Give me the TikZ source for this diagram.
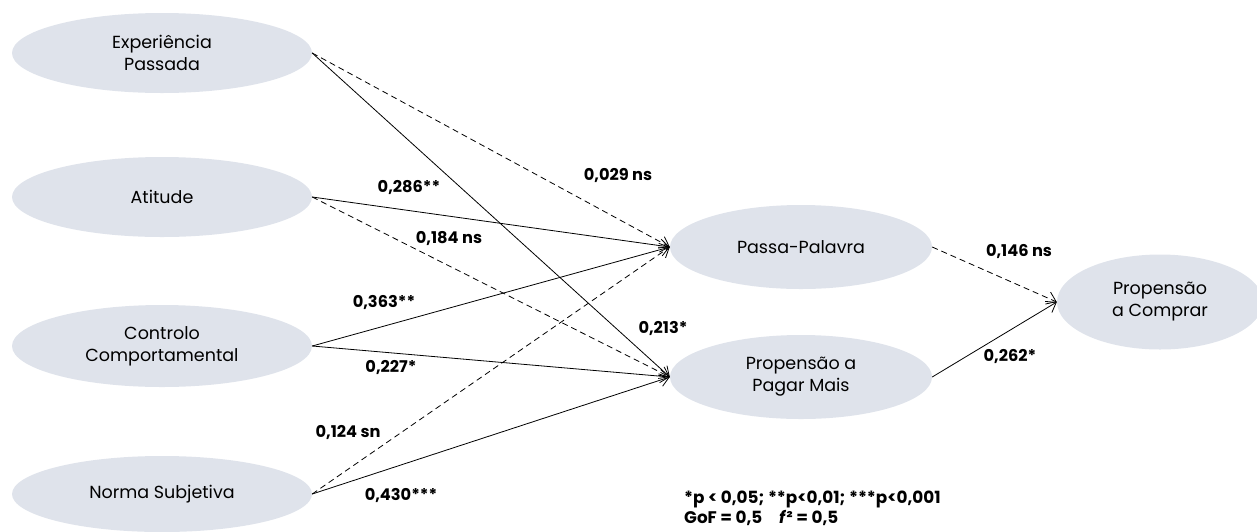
\documentclass[tikz,border=0pt]{standalone}
\usepackage{fontspec}
\setmainfont{Poppins}
\usetikzlibrary{shapes.geometric,arrows.meta}
\definecolor{latent}{RGB}{223,227,235}
\tikzset{
  construct/.style={ellipse, fill=latent, inner sep=0pt, align=center,
    font=\fontsize{17.5}{22}\selectfont},
  path/.style={draw=black, line width=0.8pt, -{Straight Barb[length=9pt,width=13pt]}},
  nspath/.style={path, dashed, dash pattern=on 6pt off 4pt},
  coef/.style={font=\bfseries\fontsize{16.2}{20}\selectfont, inner sep=0pt}
}
\begin{document}
\begin{tikzpicture}[x=1pt,y=-1pt]
\useasboundingbox (0,0) rectangle (1257,531);
% exogenous constructs
\node[construct, minimum width=300pt, minimum height=80pt] (exp) at (162,53) {Experiência\\Passada};
\node[construct, minimum width=300pt, minimum height=80pt] (ati) at (162,197) {Atitude};
\node[construct, minimum width=300pt, minimum height=82pt] (ctl) at (162,346) {Controlo\\Comportamental};
\node[construct, minimum width=300pt, minimum height=76pt] (nor) at (162,494) {Norma Subjetiva};
% mediators
\node[construct, minimum width=262pt, minimum height=84pt] (pp) at (801,247) {Passa-Palavra};
\node[construct, minimum width=262pt, minimum height=84pt] (pm) at (801,377) {Propensão a\\Pagar Mais};
% outcome
\node[construct, minimum width=206pt, minimum height=95pt] (pc) at (1160,302) {Propensão\\a Comprar};

% structural paths
\draw[path]   (exp.east) -- (pm.west);
\draw[nspath] (exp.east) -- (pp.west);
\draw[path]   (ati.east) -- (pp.west);
\draw[nspath] (ati.east) -- (pm.west);
\draw[path]   (ctl.east) -- (pp.west);
\draw[path]   (ctl.east) -- (pm.west);
\draw[nspath] (nor.east) -- (pp.west);
\draw[path]   (nor.east) -- (pm.west);
\draw[nspath] (pp.east) -- (pc.west);
\draw[path]   (pm.east) -- (pc.west);

% path coefficients
\node[coef] (c1) at (618,175) {0,029 ns};
\node[coef] (c2) at (409,187) {0,286**};
\node[coef] (c3) at (449,239) {0,184 ns};
\node[coef] (c4) at (384,302) {0,363**};
\node[coef] (c5) at (663,328) {0,213*};
\node[coef] (c6) at (391,367) {0,227*};
\node[coef] (c7) at (348,432) {0,124 sn};
\node[coef] (c8) at (401,495) {0,430***};
\node[coef] (c9) at (1019,252) {0,146 ns};
\node[coef] (c10) at (1010,356) {0,262*};

% significance legend
\node[coef, anchor=west, align=left, font=\bfseries\fontsize{16.8}{20}\selectfont] (leg) at (684,508) {*p < 0,05; **p<0,01; ***p<0,001\\GoF = 0,5\quad \textit{f}² = 0,5};
\end{tikzpicture}
\end{document}
